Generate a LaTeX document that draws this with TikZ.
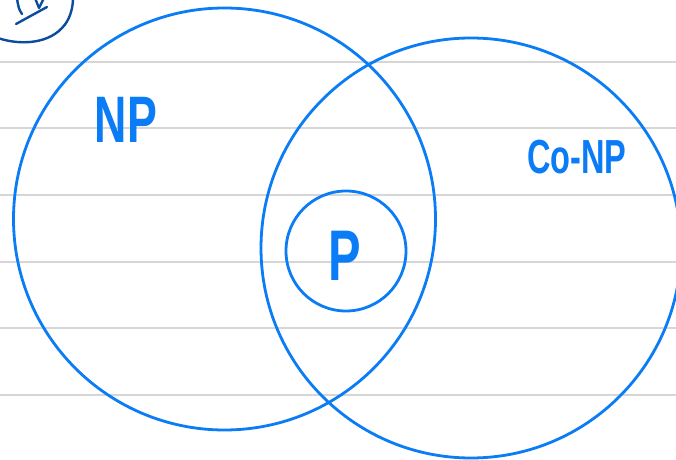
\documentclass[tikz,border=0pt]{standalone}
\usepackage{fontspec}
\setmainfont{Liberation Sans}
\definecolor{inkblue}{RGB}{10,124,245}
\definecolor{darkink}{RGB}{12,76,158}
\definecolor{ruleline}{RGB}{214,214,214}
\begin{document}
\begin{tikzpicture}[x=1bp,y=-1bp,
  rule/.style={draw=ruleline,line width=1.6bp},
  ring/.style={draw=inkblue,line width=2.8bp},
  oldink/.style={draw=darkink,line width=2.4bp,line cap=round,line join=round},
  hand/.style={text=inkblue,inner sep=0pt,xscale=0.68,transform shape}]
\useasboundingbox (0,0) rectangle (676,460);
\clip (0,0) rectangle (676,460);
\fill[white] (0,0) rectangle (676,460);
% ruled lines
\foreach \yy in {62,128,195,262,328,395}
  \draw[rule] (0,\yy) -- (676,\yy);
% top-left old mark
\draw[oldink] (-2,38) .. controls (15,44) and (45,46) .. (62,28) .. controls (70,20) and (73,8) .. (73,-2);
\draw[oldink] (17,-2) .. controls (18,6) and (19,10) .. (22,14);
\draw[oldink] (35,-2) -- (39,8) -- (44,-2);
\draw[oldink] (16,24) -- (47,7);
% circles
\coordinate (npc) at (224.5,219);
\coordinate (conpc) at (471,248);
\coordinate (pc) at (346,251);
\draw[ring] (npc) circle[radius=211];
\draw[ring] (conpc) circle[radius=210];
\draw[ring] (pc) circle[radius=60];
% labels
\node[hand,font=\bfseries\fontsize{66}{66}\selectfont] (np) at (126,120) {NP};
\node[hand,font=\bfseries\fontsize{72}{72}\selectfont] (p) at (345,256) {P};
\node[hand,font=\bfseries\fontsize{48}{48}\selectfont] (conp) at (577,157) {Co-NP};
\end{tikzpicture}
\end{document}
